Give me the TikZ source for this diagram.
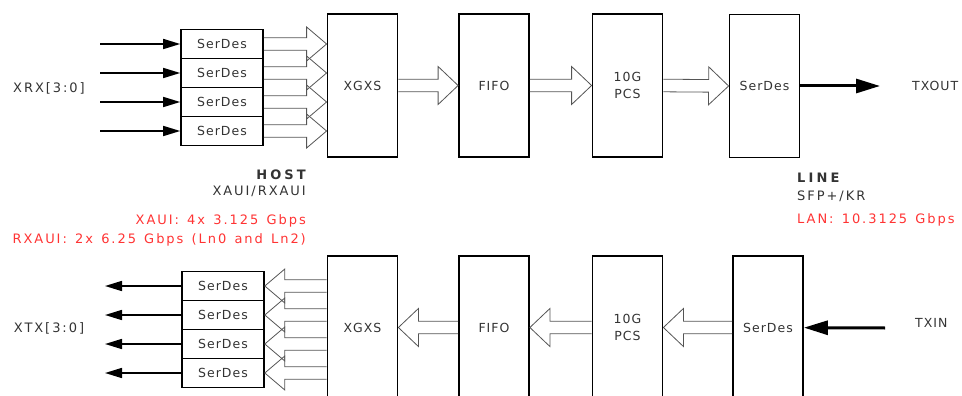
\documentclass[tikz,border=0pt]{standalone}
\usepackage{fontspec}
\setmainfont{DejaVu Sans}[LetterSpace=8]
\newfontfamily\widefont{DejaVu Sans}[LetterSpace=15,WordSpace=1.35]
\newfontfamily\hdrfont{DejaVu Sans}[LetterSpace=24]
\usetikzlibrary{arrows.meta,calc}
\definecolor{ink}{HTML}{333333}
\definecolor{alert}{HTML}{FF3333}
\definecolor{pipe}{HTML}{555555}

% open outline of a wide hollow arrow from #2 to #3, head half-width #1
\newcommand{\fatarrow}[3][19pt]{%
  \coordinate (fs) at (#2); \coordinate (fe) at (#3);
  \coordinate (fh) at ($(fe)!20pt!(fs)$);
  \draw[pipe,line width=0.8pt] ($(fs)!6.3pt!90:(fh)$) -- ($(fh)!6.3pt!-90:(fs)$)
    -- ($(fh)!#1!-90:(fs)$) -- (fe) -- ($(fh)!#1!90:(fs)$)
    -- ($(fh)!6.3pt!90:(fs)$) -- ($(fs)!6.3pt!-90:(fh)$);}

\tikzset{
  block/.style={draw=black, line width=1.8pt, minimum width=70pt, minimum height=143pt,
    inner sep=0pt, text=ink, align=center},
  lane/.style={draw=black, line width=1.6pt, minimum width=82pt, minimum height=29pt,
    inner sep=0pt, text=ink},
  wire/.style={line width=1.6pt, -{Triangle[length=17pt,width=10pt]}},
  trunk/.style={line width=3pt, -{Triangle[length=24pt,width=14pt]}},
  lbl/.style={text=ink, inner sep=0pt, font=\fontsize{13}{16}\selectfont\widefont},
  hdr/.style={lbl, font=\fontsize{13}{16}\selectfont\hdrfont\bfseries},
  note/.style={lbl, text=alert}
}

\begin{document}
\begin{tikzpicture}[x=1pt,y=-1pt,font=\fontsize{12.5}{16.5}\selectfont]
  \useasboundingbox (0,0) rectangle (962,396);
  % transmit side (host to line)
  \node[lbl] (xrx) at (49,88) {XRX[3:0]};
  \foreach \i/\y in {1/44,2/73,3/102,4/131}{
    \node[lane] (hs\i) at (222,\y) {SerDes};
    \coordinate (rx\i) at (100,\y);
    \draw[wire] (rx\i) -- (hs\i);}
  \node[block] (xgxsT)   at (362.5,85.5) {XGXS};
  \node[block] (fifoT)   at (494,85.5)   {FIFO};
  \node[block] (pcsT)    at (627.5,85.5) {10G\\PCS};
  \node[block] (serdesT) at (764.5,86)   {SerDes};
  \foreach \i in {1,...,4}{\fatarrow[17pt]{hs\i.east}{xgxsT.west |- hs\i.east}}
  \fatarrow{xgxsT.east}{fifoT.west}
  \fatarrow{fifoT.east}{pcsT.west}
  \fatarrow{pcsT.east}{serdesT.west}
  \coordinate (txoutend) at (880,86);
  \draw[trunk] (serdesT) -- (txoutend);
  \node[inner sep=0pt,text=ink,anchor=west] (txout) at (912,86) {TXOUT};

  % side labels
  \node[hdr,anchor=east] (host) at (306,175) {HOST};
  \node[lbl,anchor=east] (hostif) at (306,191) {XAUI/RXAUI};
  \node[note,anchor=east] (xauirate) at (306,221) {XAUI: 4x 3.125 Gbps};
  \node[note,anchor=east] (rxauirate) at (306,240) {RXAUI: 2x 6.25 Gbps (Ln0 and Ln2)};
  \node[hdr,anchor=west] (line) at (797,178) {LINE};
  \node[lbl,anchor=west] (lineif) at (797,196) {SFP+/KR};
  \node[note,anchor=west] (lanrate) at (797,220) {LAN: 10.3125 Gbps};

  % receive side (line to host)
  \node[lbl] (xtx) at (49,328) {XTX[3:0]};
  \foreach \i/\y in {1/286,2/315,3/344,4/373}{
    \node[lane] (ht\i) at (223,\y) {SerDes};
    \coordinate (tx\i) at (105,\y);
    \draw[wire] (ht\i) -- (tx\i);}
  \node[block] (xgxsB)   at (362.5,327.5) {XGXS};
  \node[block] (fifoB)   at (494,327.5)   {FIFO};
  \node[block] (pcsB)    at (627.5,327.5) {10G\\PCS};
  \node[block] (serdesB) at (768,327.5)   {SerDes};
  \foreach \i in {1,...,4}{\fatarrow[17pt]{xgxsB.west |- ht\i.east}{ht\i.east}}
  \fatarrow{fifoB.west}{xgxsB.east}
  \fatarrow{pcsB.west}{fifoB.east}
  \fatarrow{serdesB.west}{pcsB.east}
  \coordinate (txinstart) at (885,328);
  \draw[trunk] (txinstart) -- (serdesB);
  \node[inner sep=0pt,text=ink,anchor=west] (txin) at (915,323) {TXIN};
\end{tikzpicture}
\end{document}
